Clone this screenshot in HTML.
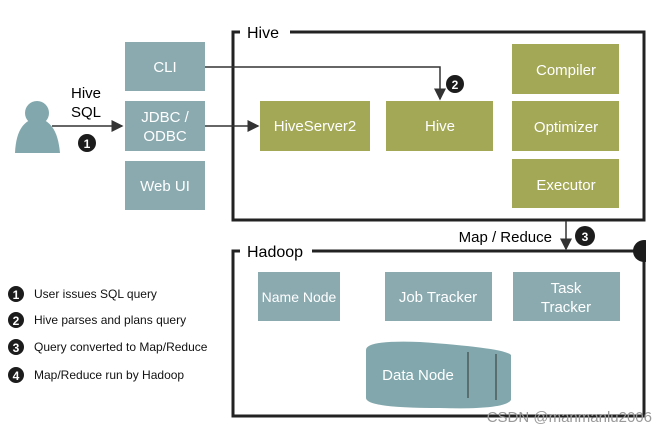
<!DOCTYPE html>
<html><head><style>body{margin:0;background:#fff}svg{display:block}text{font-family:"Liberation Sans",sans-serif}</style></head><body>
<svg width="668" height="436" xmlns="http://www.w3.org/2000/svg">
<defs><marker id="a" markerWidth="8" markerHeight="8" refX="7" refY="4" orient="auto"><path d="M0,0L8,4L0,8z" fill="#333"/></marker>
<clipPath id="c"><rect x="0" y="0" width="646" height="436"/></clipPath></defs>
<g fill="none" stroke="#222" stroke-width="3">
<path d="M240,32H233V220H644V32H290"/>
<path d="M240,251H233V416H644V251H312"/>
</g>
<text x="247" y="38" font-size="16">Hive</text>
<text x="247" y="257" font-size="16">Hadoop</text>
<circle cx="37" cy="113" r="12" fill="#82a8ad"/>
<path d="M15,153C16,130 24,120 37,118C50,120 58,130 60,153Z" fill="#82a8ad"/>
<line x1="52" y1="126" x2="122" y2="126" stroke="#333" stroke-width="1.5" marker-end="url(#a)"/>
<text x="86" y="98" font-size="15" text-anchor="middle">Hive</text>
<text x="86" y="117" font-size="15" text-anchor="middle">SQL</text>
<g fill="#8aaab0"><rect x="125" y="42" width="80" height="49"/><rect x="125" y="101" width="80" height="50"/><rect x="125" y="161" width="80" height="49"/>
<rect x="258" y="272" width="82" height="49"/><rect x="385" y="272" width="107" height="49"/><rect x="513" y="272" width="107" height="49"/></g>
<g fill="#a3a856"><rect x="260" y="101" width="110" height="50"/><rect x="386" y="101" width="107" height="50"/>
<rect x="512" y="44" width="107" height="50"/><rect x="512" y="101" width="107" height="50"/><rect x="512" y="159" width="107" height="49"/></g>
<path d="M205,67H440V99" fill="none" stroke="#333" stroke-width="1.5" marker-end="url(#a)"/>
<path d="M205,126H258" fill="none" stroke="#333" stroke-width="1.5" marker-end="url(#a)"/>
<path d="M566,221V249" fill="none" stroke="#333" stroke-width="1.5" marker-end="url(#a)"/>
<text x="552" y="242" font-size="15" text-anchor="end">Map / Reduce</text>
<path d="M366,350Q366,340 420,342Q505,348 511,355V400Q505,410 440,408Q366,408 366,398Z" fill="#82a8ad"/>
<line x1="468" y1="352" x2="468" y2="398" stroke="#333"/><line x1="496" y1="354" x2="496" y2="400" stroke="#333"/>
<g fill="#fff" font-size="15" text-anchor="middle">
<text x="165" y="72">CLI</text><text x="165" y="122">JDBC /</text><text x="165" y="141">ODBC</text><text x="165" y="191">Web UI</text>
<text x="315" y="131">HiveServer2</text><text x="440" y="131">Hive</text>
<text x="566" y="75">Compiler</text><text x="566" y="132">Optimizer</text><text x="566" y="190">Executor</text>
<text x="299" y="302" font-size="14">Name Node</text><text x="438" y="302">Job Tracker</text><text x="566" y="293">Task</text><text x="566" y="312">Tracker</text>
<text x="418" y="380">Data Node</text></g>
<g fill="#1c1c1c"><circle cx="87" cy="143" r="9"/><circle cx="455" cy="84" r="9"/><circle cx="585" cy="236" r="10"/><circle cx="644" cy="251" r="11" clip-path="url(#c)"/>
<circle cx="16" cy="294" r="8"/><circle cx="16" cy="320" r="8"/><circle cx="16" cy="347" r="8"/><circle cx="16" cy="375" r="8"/></g>
<g fill="#fff" font-size="12" text-anchor="middle" font-weight="bold">
<text x="87" y="148">1</text><text x="455" y="89">2</text><text x="585" y="241">3</text>
<text x="16" y="299">1</text><text x="16" y="325">2</text><text x="16" y="352">3</text><text x="16" y="380">4</text></g>
<g font-size="12" fill="#111"><text x="34" y="298">User issues SQL query</text><text x="34" y="324">Hive parses and plans query</text><text x="34" y="351">Query converted to Map/Reduce</text><text x="34" y="379">Map/Reduce run by Hadoop</text></g>
<text x="652" y="422" font-size="15" fill="#999" text-anchor="end">CSDN @manmanlu2006</text>
</svg>
</body></html>
